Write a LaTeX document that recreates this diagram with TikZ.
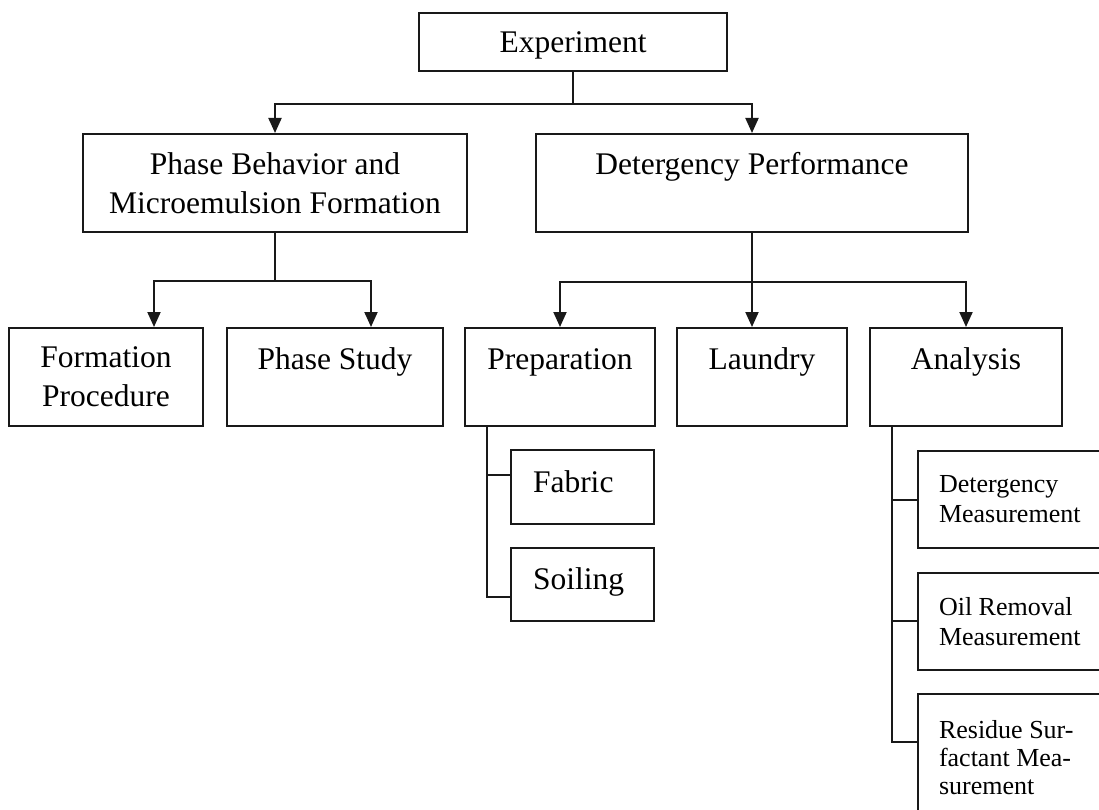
\documentclass[tikz,border=0pt]{standalone}
\usepackage{fontspec}
\setmainfont{Liberation Serif}
\usetikzlibrary{arrows.meta,calc}
\begin{document}
\begin{tikzpicture}[x=1pt,y=-1pt,
  line width=2pt, draw=black!90,
  bigfont/.style={font=\fontsize{31.5}{39}\selectfont},
  box/.style={draw, rectangle, inner sep=0pt, align=center, bigfont},
  one/.style={text height=21pt, text depth=0pt},
  topline/.style={text height=21pt, text depth=37pt},
  leftbox/.style={draw, rectangle, inner xsep=22pt, inner ysep=0pt, text width=99pt, align=flush left, bigfont, text height=21pt, text depth=11pt},
  subbox/.style={draw, rectangle, inner xsep=21pt, inner ysep=0pt, text width=150pt, align=flush left, font=\fontsize{26}{30}\selectfont},
  arr/.style={-{Triangle[length=15pt,width=13pt]}},
]
\useasboundingbox (0,0) rectangle (1099,810);
\clip (0,0) rectangle (1099,810);

% top level
\node[box, one, minimum width=308pt, minimum height=58pt] (exp) at (573,42) {Experiment};

% second level
\node[box, minimum width=384pt, minimum height=98pt] (pb) at (275,183) {Phase Behavior and\\Microemulsion Formation};
\node[box, topline, minimum width=432pt, minimum height=98pt] (dp) at (752,183) {Detergency Performance};

% third level
\node[box, minimum width=194pt, minimum height=98pt] (fp) at (106,377) {Formation\\Procedure};
\node[box, topline, minimum width=216pt, minimum height=98pt] (ps) at (335,377) {Phase Study};
\node[box, topline, minimum width=190pt, minimum height=98pt] (prep) at (560,377) {Preparation};
\node[box, topline, minimum width=170pt, minimum height=98pt] (laun) at (762,377) {Laundry};
\node[box, topline, minimum width=192pt, minimum height=98pt] (ana) at (966,377) {Analysis};

% preparation items
\node[leftbox, minimum height=74pt] (fab) at (582.5,487) {Fabric};
\node[leftbox, minimum height=73pt] (soil) at (582.5,584.5) {Soiling};

% analysis items
\node[subbox, minimum height=97pt] (dm) at (1014,499.5) {Detergency\\Measurement};
\node[subbox, minimum height=97pt] (om) at (1014,621.5) {Oil Removal\\Measurement};
\node[subbox, minimum height=128pt, font=\fontsize{26}{28}\selectfont] (rs) at (1014,758) {Residue Sur-\\factant Mea-\\surement};

% connectors
\draw (exp.south) -- ++(0,32) coordinate (j1);
\draw[arr] (j1) -| (pb.north);
\draw[arr] (j1) -| (dp.north);

\draw (pb.south) -- ++(0,48) coordinate (j2);
\draw[arr] (j2) -| ([xshift=48pt]fp.north);
\draw[arr] (j2) -| ([xshift=36pt]ps.north);

\draw (dp.south) -- ++(0,49) coordinate (j3);
\draw[arr] (j3) -| (prep.north);
\draw[arr] (j3) -| ([xshift=-10pt]laun.north);
\draw[arr] (j3) -| (ana.north);

\draw ([xshift=23pt]prep.south west) |- ([yshift=12pt]fab.west);
\draw ([xshift=23pt]prep.south west) |- ([yshift=-12.5pt]soil.west);

\draw ([xshift=23pt]ana.south west) |- ([yshift=-0.5pt]dm.west);
\draw ([xshift=23pt]ana.south west) |- ([yshift=0.5pt]om.west);
\draw ([xshift=23pt]ana.south west) |- ([yshift=16pt]rs.west);
\end{tikzpicture}
\end{document}
